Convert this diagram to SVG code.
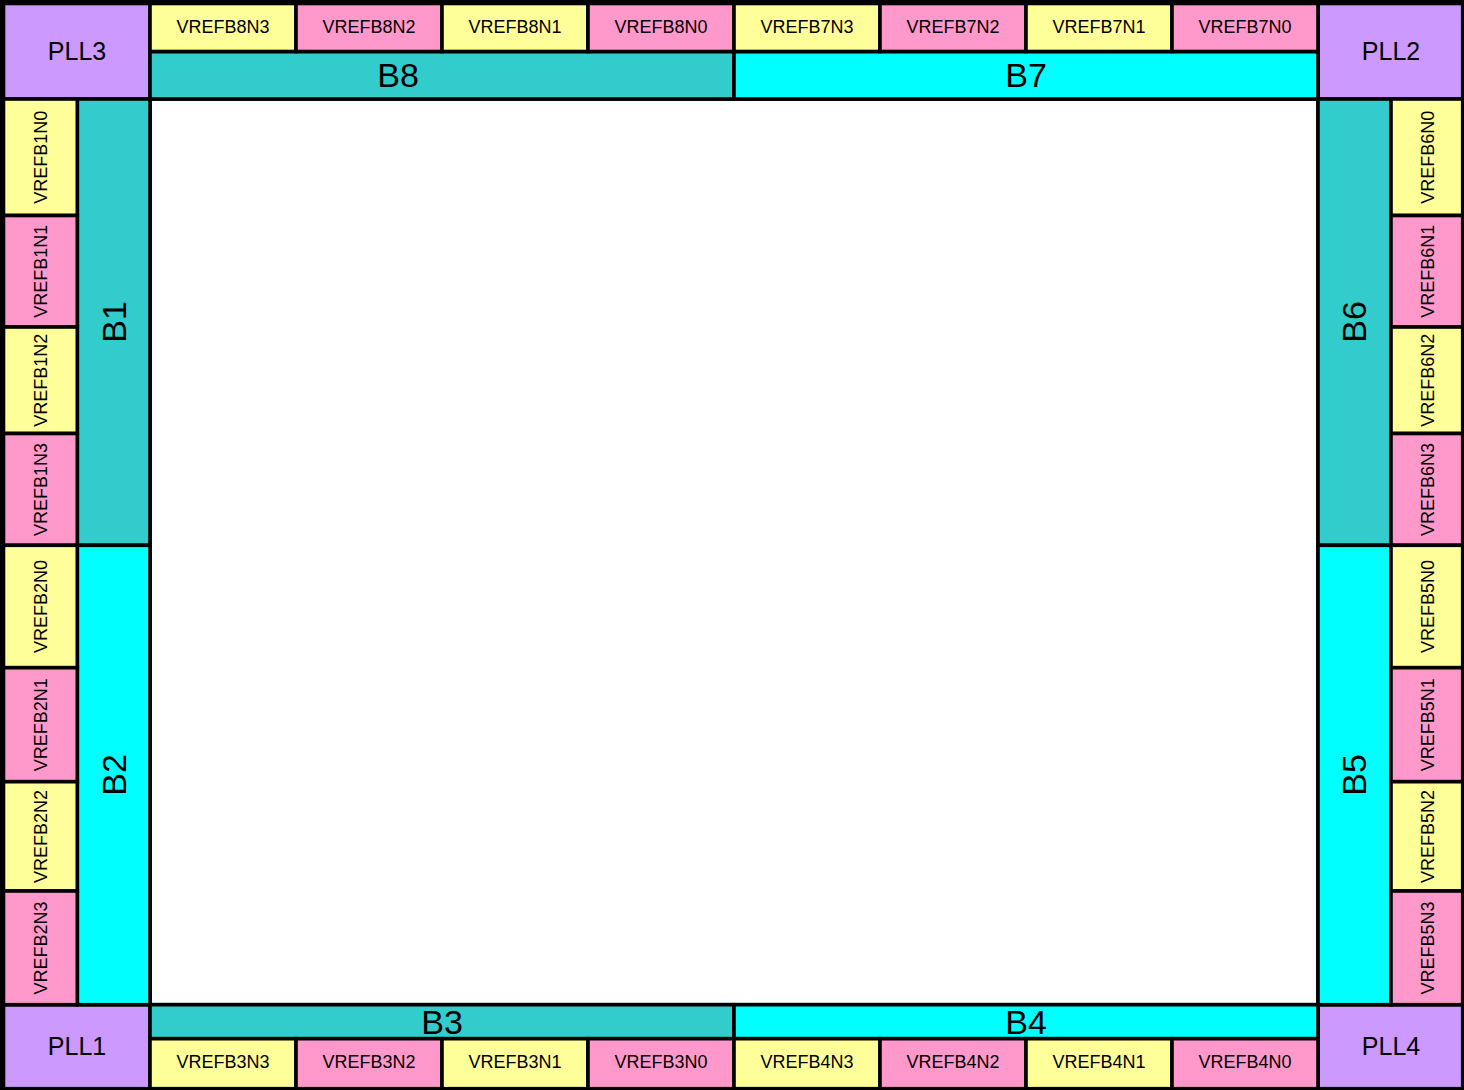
<svg xmlns="http://www.w3.org/2000/svg" width="1464" height="1090" viewBox="0 0 1464 1090">
<style>
rect{stroke:#000;stroke-width:3.6}
.y{fill:#FFFF99}.p{fill:#FF99CC}.t{fill:#33CCCC}.c{fill:#00FFFF}.v{fill:#CC99FF}.w{fill:#FFFFFF}
text{font-family:"Liberation Sans",Arial,sans-serif;fill:#000;text-anchor:middle}
.s{font-size:18px}.l{font-size:25px}.b{font-size:34px}
</style>
<rect x="0" y="0" width="1464" height="1090" fill="#000" style="stroke:none"/>
<g id="core"><rect class="w" x="150" y="99" width="1168" height="905.7"/></g>
<g id="PLL3"><rect class="v" x="3.5" y="3.5" width="146.5" height="95.5"/><text class="l" x="77" y="60">PLL3</text></g>
<g id="PLL2"><rect class="v" x="1318" y="3.5" width="144.7" height="95.5"/><text class="l" x="1391" y="59.5">PLL2</text></g>
<g id="PLL1"><rect class="v" x="3.5" y="1004.7" width="146.5" height="84"/><text class="l" x="77" y="1055">PLL1</text></g>
<g id="PLL4"><rect class="v" x="1318" y="1004.7" width="144.7" height="84"/><text class="l" x="1391" y="1055">PLL4</text></g>
<g id="B8"><rect class="t" x="150" y="51.5" width="584" height="47.5"/><text class="b" x="398" y="87">B8</text></g>
<g id="B7"><rect class="c" x="734" y="51.5" width="584" height="47.5"/><text class="b" x="1026" y="87">B7</text></g>
<g id="B3"><rect class="t" x="150" y="1004.7" width="584" height="34"/><text class="b" x="442" y="1034">B3</text></g>
<g id="B4"><rect class="c" x="734" y="1004.7" width="584" height="34"/><text class="b" x="1026" y="1034">B4</text></g>
<g id="B1"><rect class="t" x="77.3" y="99" width="72.7" height="446.3"/><text class="b" transform="translate(126,322) rotate(-90)">B1</text></g>
<g id="B2"><rect class="c" x="77.3" y="545.3" width="72.7" height="459.4"/><text class="b" transform="translate(126,775) rotate(-90)">B2</text></g>
<g id="B6"><rect class="t" x="1318" y="99" width="73" height="446.3"/><text class="b" transform="translate(1366,322) rotate(-90)">B6</text></g>
<g id="B5"><rect class="c" x="1318" y="545.3" width="73" height="459.4"/><text class="b" transform="translate(1366,775) rotate(-90)">B5</text></g>
<g id="VREFB8N3"><rect class="y" x="150" y="3.5" width="146" height="48"/><text class="s" x="223" y="33.3">VREFB8N3</text></g>
<g id="VREFB8N2"><rect class="p" x="296" y="3.5" width="146" height="48"/><text class="s" x="369" y="33.3">VREFB8N2</text></g>
<g id="VREFB8N1"><rect class="y" x="442" y="3.5" width="146" height="48"/><text class="s" x="515" y="33.3">VREFB8N1</text></g>
<g id="VREFB8N0"><rect class="p" x="588" y="3.5" width="146" height="48"/><text class="s" x="661" y="33.3">VREFB8N0</text></g>
<g id="VREFB7N3"><rect class="y" x="734" y="3.5" width="146" height="48"/><text class="s" x="807" y="33.3">VREFB7N3</text></g>
<g id="VREFB7N2"><rect class="p" x="880" y="3.5" width="146" height="48"/><text class="s" x="953" y="33.3">VREFB7N2</text></g>
<g id="VREFB7N1"><rect class="y" x="1026" y="3.5" width="146" height="48"/><text class="s" x="1099" y="33.3">VREFB7N1</text></g>
<g id="VREFB7N0"><rect class="p" x="1172" y="3.5" width="146" height="48"/><text class="s" x="1245" y="33.3">VREFB7N0</text></g>
<g id="VREFB3N3"><rect class="y" x="150" y="1038.7" width="146" height="50"/><text class="s" x="223" y="1068.3">VREFB3N3</text></g>
<g id="VREFB3N2"><rect class="p" x="296" y="1038.7" width="146" height="50"/><text class="s" x="369" y="1068.3">VREFB3N2</text></g>
<g id="VREFB3N1"><rect class="y" x="442" y="1038.7" width="146" height="50"/><text class="s" x="515" y="1068.3">VREFB3N1</text></g>
<g id="VREFB3N0"><rect class="p" x="588" y="1038.7" width="146" height="50"/><text class="s" x="661" y="1068.3">VREFB3N0</text></g>
<g id="VREFB4N3"><rect class="y" x="734" y="1038.7" width="146" height="50"/><text class="s" x="807" y="1068.3">VREFB4N3</text></g>
<g id="VREFB4N2"><rect class="p" x="880" y="1038.7" width="146" height="50"/><text class="s" x="953" y="1068.3">VREFB4N2</text></g>
<g id="VREFB4N1"><rect class="y" x="1026" y="1038.7" width="146" height="50"/><text class="s" x="1099" y="1068.3">VREFB4N1</text></g>
<g id="VREFB4N0"><rect class="p" x="1172" y="1038.7" width="146" height="50"/><text class="s" x="1245" y="1068.3">VREFB4N0</text></g>
<g id="VREFB1N0"><rect class="y" x="3.5" y="99" width="73.8" height="116.5"/><text class="s" transform="translate(46.5,157.3) rotate(-90)">VREFB1N0</text></g>
<g id="VREFB1N1"><rect class="p" x="3.5" y="215.5" width="73.8" height="111.5"/><text class="s" transform="translate(46.5,271.3) rotate(-90)">VREFB1N1</text></g>
<g id="VREFB1N2"><rect class="y" x="3.5" y="327" width="73.8" height="106.5"/><text class="s" transform="translate(46.5,380.3) rotate(-90)">VREFB1N2</text></g>
<g id="VREFB1N3"><rect class="p" x="3.5" y="433.5" width="73.8" height="111.8"/><text class="s" transform="translate(46.5,489.4) rotate(-90)">VREFB1N3</text></g>
<g id="VREFB2N0"><rect class="y" x="3.5" y="545.3" width="73.8" height="122.4"/><text class="s" transform="translate(46.5,606.5) rotate(-90)">VREFB2N0</text></g>
<g id="VREFB2N1"><rect class="p" x="3.5" y="667.7" width="73.8" height="114"/><text class="s" transform="translate(46.5,724.7) rotate(-90)">VREFB2N1</text></g>
<g id="VREFB2N2"><rect class="y" x="3.5" y="781.7" width="73.8" height="109.3"/><text class="s" transform="translate(46.5,836.4) rotate(-90)">VREFB2N2</text></g>
<g id="VREFB2N3"><rect class="p" x="3.5" y="891" width="73.8" height="113.7"/><text class="s" transform="translate(46.5,947.9) rotate(-90)">VREFB2N3</text></g>
<g id="VREFB6N0"><rect class="y" x="1391" y="99" width="71.7" height="116.5"/><text class="s" transform="translate(1434,157.3) rotate(-90)">VREFB6N0</text></g>
<g id="VREFB6N1"><rect class="p" x="1391" y="215.5" width="71.7" height="111.5"/><text class="s" transform="translate(1434,271.3) rotate(-90)">VREFB6N1</text></g>
<g id="VREFB6N2"><rect class="y" x="1391" y="327" width="71.7" height="106.5"/><text class="s" transform="translate(1434,380.3) rotate(-90)">VREFB6N2</text></g>
<g id="VREFB6N3"><rect class="p" x="1391" y="433.5" width="71.7" height="111.8"/><text class="s" transform="translate(1434,489.4) rotate(-90)">VREFB6N3</text></g>
<g id="VREFB5N0"><rect class="y" x="1391" y="545.3" width="71.7" height="122.4"/><text class="s" transform="translate(1434,606.5) rotate(-90)">VREFB5N0</text></g>
<g id="VREFB5N1"><rect class="p" x="1391" y="667.7" width="71.7" height="114"/><text class="s" transform="translate(1434,724.7) rotate(-90)">VREFB5N1</text></g>
<g id="VREFB5N2"><rect class="y" x="1391" y="781.7" width="71.7" height="109.3"/><text class="s" transform="translate(1434,836.4) rotate(-90)">VREFB5N2</text></g>
<g id="VREFB5N3"><rect class="p" x="1391" y="891" width="71.7" height="113.7"/><text class="s" transform="translate(1434,947.9) rotate(-90)">VREFB5N3</text></g>
<g id="connectors"></g>
</svg>
